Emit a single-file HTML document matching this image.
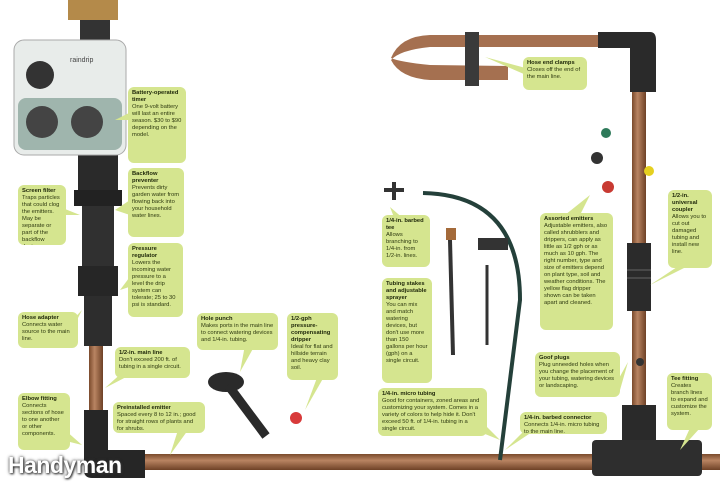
<!DOCTYPE html>
<html><head><meta charset="utf-8"><style>
body{margin:0;background:#fff;width:720px;height:492px;overflow:hidden;position:relative;font-family:"Liberation Sans",sans-serif}
svg{position:absolute;left:0;top:0}
.b{position:absolute;background:#d5e58f;border-radius:6px;font-size:5.8px;line-height:7px;color:#2e3a10;padding:3px 4px;box-sizing:border-box;overflow:hidden}
.b b{display:block;color:#1d2608}
.hm{position:absolute;left:8px;top:452px;font-size:23px;color:#fff;font-weight:bold;text-shadow:0 0 3px #333,1px 1px 2px #333;letter-spacing:-0.5px}
</style></head><body>
<svg width="720" height="492">
<defs><linearGradient id="p" x1="0" x2="0" y1="0" y2="1"><stop offset="0" stop-color="#7a4a2c"/><stop offset=".4" stop-color="#b98462"/><stop offset="1" stop-color="#6e4126"/></linearGradient>
<linearGradient id="pv" x1="0" x2="1" y1="0" y2="0"><stop offset="0" stop-color="#7a4a2c"/><stop offset=".4" stop-color="#b98462"/><stop offset="1" stop-color="#6e4126"/></linearGradient></defs>
<rect x="100" y="454" width="620" height="16" fill="url(#p)"/>
<rect x="89" y="300" width="14" height="120" fill="url(#pv)"/>
<rect x="632" y="85" width="14" height="330" fill="url(#pv)"/>
<!-- hose end loop -->
<path d="M610 35 L430 35 Q400 36 391 58 Q400 62 430 65 L508 66 L508 80 L430 80 Q400 78 391 60 Q400 50 430 47 L610 47Z" fill="#a57050"/>
<rect x="465" y="32" width="14" height="54" fill="#3a3a3a"/>
<path d="M598 32 L650 32 Q656 32 656 40 L656 92 L630 92 L630 48 L598 48Z" fill="#2a2a2a"/>
<rect x="627" y="243" width="24" height="68" fill="#2b2b2b"/>
<line x1="627" y1="270" x2="651" y2="270" stroke="#666"/><line x1="627" y1="278" x2="651" y2="278" stroke="#666"/>
<rect x="622" y="405" width="34" height="40" fill="#2a2a2a"/>
<rect x="592" y="440" width="110" height="36" rx="4" fill="#2e2e2e"/>
<path d="M84 410 L108 410 L108 450 L145 450 L145 478 L92 478 Q84 478 84 470Z" fill="#262626"/>
<rect x="78" y="150" width="40" height="40" fill="#2a2a2a"/>
<rect x="74" y="190" width="48" height="16" fill="#222"/>
<rect x="82" y="206" width="32" height="60" fill="#303030"/>
<rect x="78" y="266" width="40" height="30" fill="#262626"/>
<rect x="84" y="296" width="28" height="50" fill="#2d2d2d"/>
<rect x="68" y="0" width="50" height="20" fill="#b48a4a"/>
<rect x="80" y="20" width="30" height="20" fill="#333"/>
<rect x="14" y="40" width="112" height="115" rx="10" fill="#e8ecea" stroke="#aaa"/>
<rect x="18" y="98" width="104" height="52" rx="8" fill="#9fb5ad"/>
<circle cx="40" cy="75" r="14" fill="#333"/>
<circle cx="42" cy="122" r="16" fill="#444"/><circle cx="87" cy="122" r="16" fill="#444"/>
<text x="70" y="62" font-size="7" fill="#444" font-family="Liberation Sans">raindrip</text>
<path d="M423 193 Q520 195 520 300 L500 460" stroke="#24403a" stroke-width="4" fill="none"/>
<path d="M384 190 L404 190 M394 182 L394 200" stroke="#333" stroke-width="4"/>
<line x1="450" y1="240" x2="453" y2="355" stroke="#333" stroke-width="4"/>
<rect x="446" y="228" width="10" height="12" fill="#a46a3a"/>
<line x1="487" y1="265" x2="487" y2="345" stroke="#333" stroke-width="3"/>
<rect x="478" y="238" width="30" height="12" fill="#333"/>
<circle cx="606" cy="133" r="5" fill="#2e7a5a"/><circle cx="597" cy="158" r="6" fill="#333"/><circle cx="608" cy="187" r="6" fill="#c83a32"/><circle cx="649" cy="171" r="5" fill="#e5d020"/>
<circle cx="296" cy="418" r="6" fill="#d83a3a"/>
<circle cx="640" cy="362" r="4" fill="#333"/>
<ellipse cx="226" cy="382" rx="18" ry="10" fill="#2a2a2a"/>
<line x1="228" y1="385" x2="266" y2="436" stroke="#2a2a2a" stroke-width="9"/>
<g fill="#d5e58f"><path d="M135 110 L115 120 L135 120Z"/><path d="M55 205 L80 215 L60 215Z"/><path d="M130 200 L115 210 L130 215Z"/><path d="M135 270 L120 290 L135 285Z"/><path d="M68 325 L82 310 L72 330Z"/><path d="M125 370 L105 388 L130 375Z"/><path d="M245 345 L240 372 L255 345Z"/><path d="M318 375 L305 410 L325 375Z"/><path d="M62 440 L82 445 L65 430Z"/><path d="M178 430 L170 455 L188 430Z"/><path d="M533 70 L485 57 L533 78Z"/><path d="M395 220 L390 207 L405 220Z"/><path d="M395 300 L400 292 L392 310Z"/><path d="M565 215 L590 195 L580 215Z"/><path d="M680 265 L650 285 L690 265Z"/><path d="M618 380 L628 362 L620 390Z"/><path d="M470 410 L500 440 L475 430Z"/><path d="M525 430 L505 450 L535 430Z"/><path d="M690 428 L680 450 L700 428Z"/></g>
</svg>
<div class="b" style="left:128px;top:87px;width:58px;height:76px"><b>Battery-operated timer</b>One 9-volt battery will last an entire season. $30 to $90 depending on the model.</div>
<div class="b" style="left:18px;top:185px;width:48px;height:60px"><b>Screen filter</b>Traps particles that could clog the emitters. May be separate or part of the backflow device.</div>
<div class="b" style="left:128px;top:168px;width:56px;height:69px"><b>Backflow preventer</b>Prevents dirty garden water from flowing back into your household water lines.</div>
<div class="b" style="left:128px;top:243px;width:55px;height:74px"><b>Pressure regulator</b>Lowers the incoming water pressure to a level the drip system can tolerate; 25 to 30 psi is standard.</div>
<div class="b" style="left:18px;top:312px;width:60px;height:36px"><b>Hose adapter</b>Connects water source to the main line.</div>
<div class="b" style="left:115px;top:347px;width:75px;height:31px"><b>1/2-in. main line</b>Don't exceed 200 ft. of tubing in a single circuit.</div>
<div class="b" style="left:197px;top:313px;width:81px;height:37px"><b>Hole punch</b>Makes ports in the main line to connect watering devices and 1/4-in. tubing.</div>
<div class="b" style="left:287px;top:313px;width:51px;height:67px"><b>1/2-gph pressure-compensating dripper</b>Ideal for flat and hillside terrain and heavy clay soil.</div>
<div class="b" style="left:18px;top:393px;width:52px;height:57px"><b>Elbow fitting</b>Connects sections of hose to one another or other components.</div>
<div class="b" style="left:113px;top:402px;width:92px;height:31px"><b>Preinstalled emitter</b>Spaced every 8 to 12 in.; good for straight rows of plants and for shrubs.</div>
<div class="b" style="left:523px;top:57px;width:64px;height:33px"><b>Hose end clamps</b>Closes off the end of the main line.</div>
<div class="b" style="left:382px;top:215px;width:48px;height:52px"><b>1/4-in. barbed tee</b>Allows branching to 1/4-in. from 1/2-in. lines.</div>
<div class="b" style="left:382px;top:278px;width:50px;height:105px"><b>Tubing stakes and adjustable sprayer</b>You can mix and match watering devices, but don't use more than 150 gallons per hour (gph) on a single circuit.</div>
<div class="b" style="left:540px;top:213px;width:73px;height:117px"><b>Assorted emitters</b>Adjustable emitters, also called shrubblers and drippers, can apply as little as 1/2 gph or as much as 10 gph. The right number, type and size of emitters depend on plant type, soil and weather conditions. The yellow flag dripper shown can be taken apart and cleaned.</div>
<div class="b" style="left:668px;top:190px;width:44px;height:78px"><b>1/2-in. universal coupler</b>Allows you to cut out damaged tubing and install new line.</div>
<div class="b" style="left:535px;top:352px;width:85px;height:45px"><b>Goof plugs</b>Plug unneeded holes when you change the placement of your tubing, watering devices or landscaping.</div>
<div class="b" style="left:378px;top:388px;width:109px;height:48px"><b>1/4-in. micro tubing</b>Good for containers, zoned areas and customizing your system. Comes in a variety of colors to help hide it. Don't exceed 50 ft. of 1/4-in. tubing in a single circuit.</div>
<div class="b" style="left:520px;top:412px;width:87px;height:22px"><b>1/4-in. barbed connector</b>Connects 1/4-in. micro tubing to the main line.</div>
<div class="b" style="left:667px;top:373px;width:45px;height:57px"><b>Tee fitting</b>Creates branch lines to expand and customize the system.</div>
<div class="hm">Handyman</div>
</body></html>
